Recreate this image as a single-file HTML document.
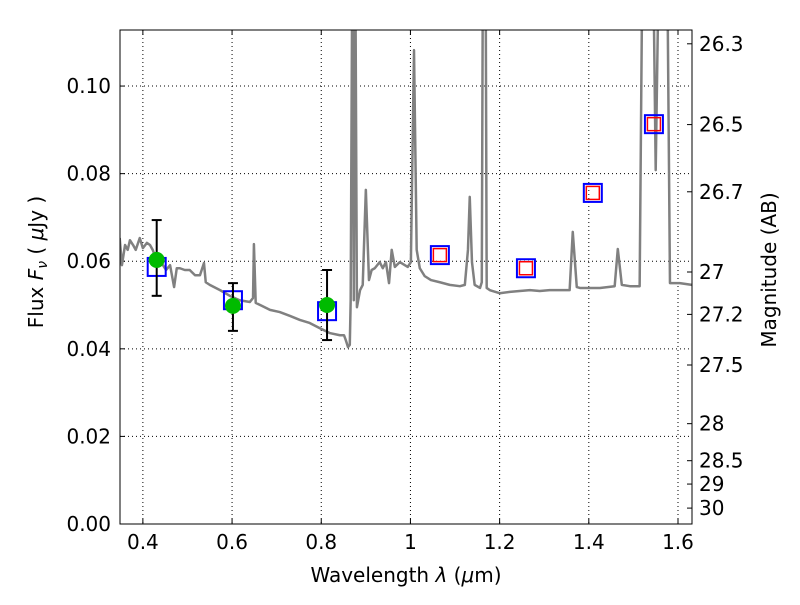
<!DOCTYPE html>
<html><head><meta charset="utf-8"><style>
body{margin:0;background:#fff;font-family:"Liberation Sans",sans-serif}
svg text{font-family:"DejaVu Sans","Liberation Sans",sans-serif;font-size:20px;fill:#000}
</style></head><body>
<svg id="chart" width="800" height="600"></svg>
<script>
const specLam=[0.348,0.353,0.360,0.366,0.371,0.378,0.384,0.393,0.400,0.409,0.416,0.422,0.429,0.438,0.445,0.452,0.461,0.470,0.476,0.483,0.494,0.505,0.517,0.528,0.537,0.541,0.550,0.573,0.595,0.617,0.640,0.647,0.649,0.653,0.667,0.685,0.707,0.730,0.752,0.774,0.797,0.819,0.842,0.851,0.855,0.860,0.864,0.866,0.869,0.871,0.873,0.875,0.877,0.880,0.887,0.893,0.900,0.907,0.913,0.920,0.931,0.938,0.945,0.952,0.958,0.965,0.976,0.994,1.001,1.008,1.014,1.021,1.032,1.046,1.066,1.088,1.111,1.122,1.129,1.133,1.138,1.144,1.156,1.160,1.162,1.169,1.171,1.178,1.200,1.223,1.245,1.268,1.290,1.312,1.357,1.364,1.373,1.380,1.425,1.458,1.465,1.474,1.492,1.514,1.519,1.546,1.550,1.555,1.577,1.582,1.604,1.631];
const specFlux=[.0653,.0591,.0637,.0626,.0648,.0637,.0626,.0653,.0630,.0642,.0637,.0626,.0607,.0598,.0591,.0580,.0591,.0541,.0584,.0584,.0580,.0580,.0568,.0568,.0596,.0552,.0546,.0534,.0521,.0511,.0507,.0516,.0639,.0505,.0498,.0489,.0484,.0475,.0466,.0459,.0447,.0436,.0431,.0431,.0420,.0404,.0409,.0511,.115,.115,.0511,.115,.115,.0495,.0534,.0546,.0763,.0557,.0580,.0584,.0598,.0584,.0598,.0550,.0626,.0587,.0598,.0587,.0598,.1082,.0626,.0584,.0566,.0557,.0552,.0546,.0543,.0546,.0626,.0747,.0598,.0546,.0539,.0552,.115,.115,.0539,.0534,.0527,.0530,.0532,.0534,.0532,.0534,.0534,.0667,.0541,.0539,.0539,.0543,.0628,.0546,.0543,.0543,.115,.115,.0808,.115,.115,.0550,.0550,.0546];
const obsLam=[0.431,0.602,0.813];
const obsFlux=[0.0603,0.0498,0.0500];
const obsLo=[0.0521,0.0441,0.0420];
const obsHi=[0.0694,0.0550,0.0580];
const modLam=[0.431,0.602,0.813,1.066,1.259,1.409,1.546];
const modFlux=[0.0587,0.0511,0.0486,0.0614,0.0584,0.0756,0.0913];
const predLam=[1.066,1.259,1.409,1.546];
const predFlux=[0.0614,0.0584,0.0756,0.0913];
const xTicks=[0.4,0.6,0.8,1.0,1.2,1.4,1.6];
const xTickLabels=["0.4","0.6","0.8","1","1.2","1.4","1.6"];
const yTicks=[0,0.02,0.04,0.06,0.08,0.10];
const yTickLabels=["0.00","0.02","0.04","0.06","0.08","0.10"];
const magTicks=[26.3,26.5,26.7,27,27.2,27.5,28,28.5,29,30];

const L=120,R=692,T=30,B=524,xmin=0.3487,xmax=1.6314,ymin=0,ymax=0.1128;
const X=v=>L+(v-xmin)/(xmax-xmin)*(R-L);
const Y=v=>B-(v-ymin)/(ymax-ymin)*(B-T);
const NS="http://www.w3.org/2000/svg";
const svg=document.getElementById('chart');
function mk(tag,attrs,parent){const e=document.createElementNS(NS,tag);for(const k in attrs)e.setAttribute(k,attrs[k]);(parent||svg).appendChild(e);return e;}
const defs=mk('defs',{});const cp=mk('clipPath',{id:'clip'},defs);mk('rect',{x:L,y:T,width:R-L,height:B-T},cp);
xTicks.forEach((t,i)=>{
 const g=mk('line',{x1:X(t),x2:X(t),y1:T,y2:B,stroke:'#000','stroke-dasharray':'1,3','stroke-width':1});
 
 
 mk('line',{x1:X(t),x2:X(t),y1:B,y2:B-5,stroke:'#000'});mk('line',{x1:X(t),x2:X(t),y1:T,y2:T+5,stroke:'#000'});
 const tx=mk('text',{x:X(t),y:B+25,'text-anchor':'middle'});tx.textContent=xTickLabels[i];
 
 
});
yTicks.forEach((t,i)=>{
 const g=mk('line',{x1:L,x2:R,y1:Y(t),y2:Y(t),stroke:'#000','stroke-dasharray':'1,3','stroke-width':1});
 
 
 mk('line',{x1:L,x2:L+5,y1:Y(t),y2:Y(t),stroke:'#000'});
 const tx=mk('text',{x:L-9,y:Y(t)+7,'text-anchor':'end'});tx.textContent=yTickLabels[i];
 
 
});
magTicks.forEach(m=>{
 const f=Math.pow(10,(23.9-m)/2.5);const y=Y(f);
 mk('line',{x1:R-5,x2:R,y1:y,y2:y,stroke:'#000'});
 const tx=mk('text',{x:R+7,y:y+7});tx.textContent=String(m);
 
 
});
const pl=mk('polyline',{points:specLam.map((l,i)=>X(l)+','+Y(specFlux[i])).join(' '),fill:'none',stroke:'#808080','stroke-width':2.5,'clip-path':'url(#clip)','stroke-linejoin':'round'});


modLam.forEach((l,i)=>{
 const r=mk('rect',{x:X(l)-9,y:Y(modFlux[i])-9,width:18,height:18,fill:'none',stroke:'#0000ff','stroke-width':2});
 
 
});
predLam.forEach((l,i)=>{
 const r=mk('rect',{x:X(l)-6.5,y:Y(predFlux[i])-6.5,width:13,height:13,fill:'none',stroke:'#ff0000','stroke-width':1.5});
 
 
});
obsLam.forEach((l,i)=>{
 const g=mk('g',{});
 
 
 mk('line',{x1:X(l),x2:X(l),y1:Y(obsLo[i]),y2:Y(obsHi[i]),stroke:'#000','stroke-width':2},g);
 mk('line',{x1:X(l)-5,x2:X(l)+5,y1:Y(obsLo[i]),y2:Y(obsLo[i]),stroke:'#000','stroke-width':2},g);
 mk('line',{x1:X(l)-5,x2:X(l)+5,y1:Y(obsHi[i]),y2:Y(obsHi[i]),stroke:'#000','stroke-width':2},g);
 const c=mk('circle',{cx:X(l),cy:Y(obsFlux[i]),r:8,fill:'#00bb00'});
 
 
});
const fr=mk('rect',{x:L,y:T,width:R-L,height:B-T,fill:'none',stroke:'#000','stroke-width':1});


const xl=mk('text',{x:406,y:582,'text-anchor':'middle'});xl.innerHTML='Wavelength  <tspan font-style="italic">λ</tspan> (<tspan font-style="italic">μ</tspan>m)';


const yl=mk('text',{x:0,y:0,'text-anchor':'middle',transform:'translate(43,262) rotate(-90)'});yl.innerHTML='Flux  <tspan font-style="italic">F</tspan><tspan font-style="italic" font-size="14" dy="4">ν</tspan><tspan dy="-4">  ( </tspan><tspan font-style="italic">μ</tspan>Jy )';


const rl=mk('text',{x:0,y:0,'text-anchor':'middle',transform:'translate(776,270) rotate(-90)'});rl.textContent='Magnitude (AB)';


</script>
</body></html>
